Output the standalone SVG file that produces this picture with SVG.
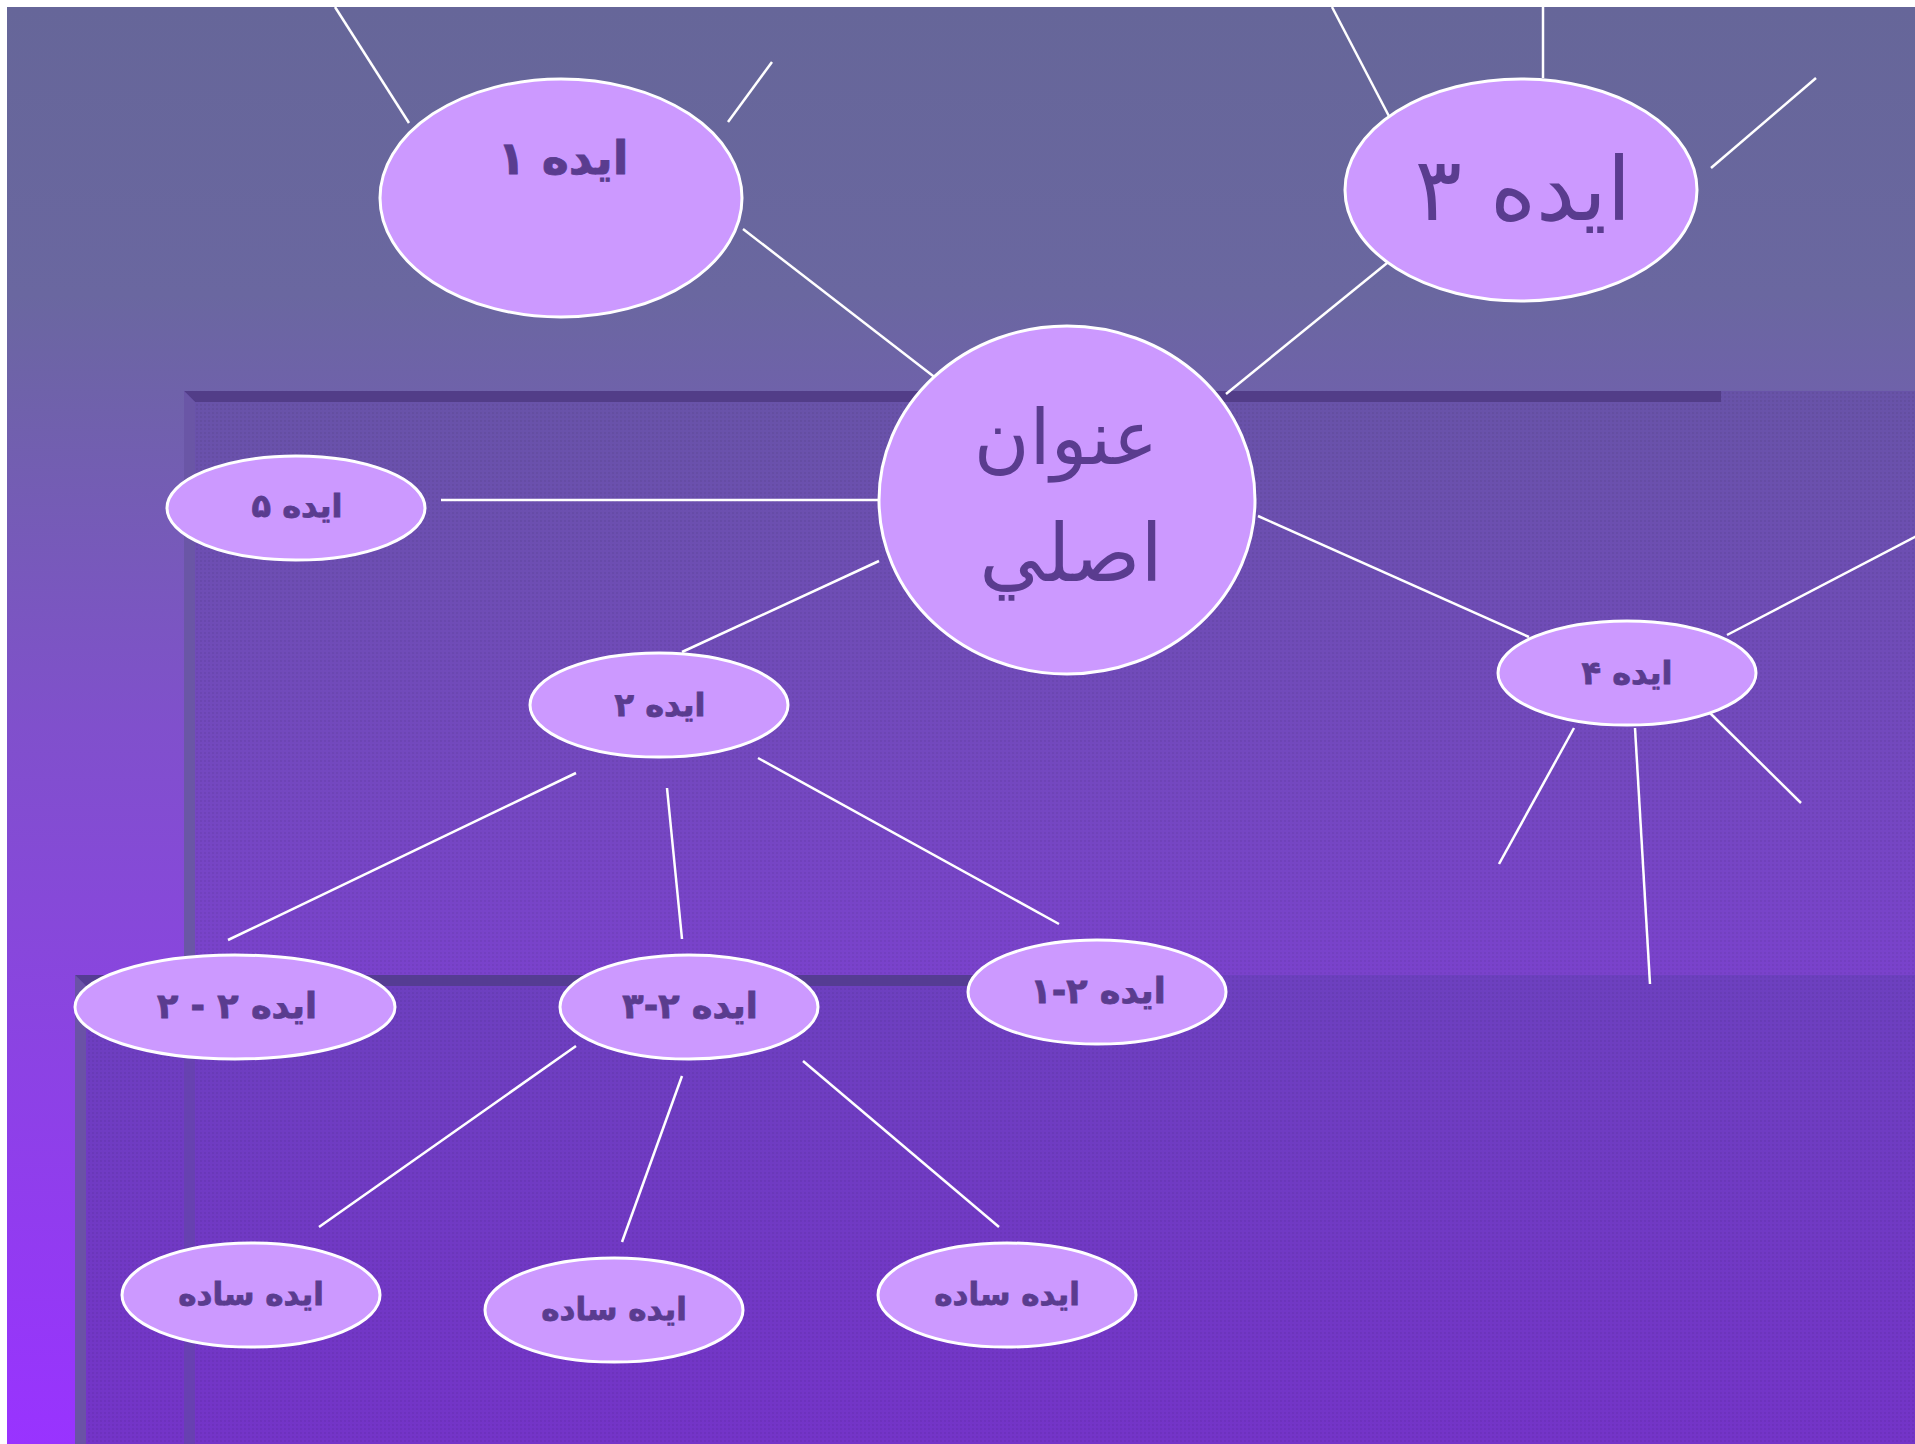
<svg xmlns="http://www.w3.org/2000/svg" width="1915" height="1444" viewBox="0 0 1915 1444">
<style>
.node ellipse{fill:#cc99ff;stroke:#ffffff;stroke-width:3}
.node text{font-family:"DejaVu Sans",sans-serif;fill:#5a3c8f;text-anchor:middle;direction:rtl}
.b text{font-weight:bold;stroke:#5a3c8f;stroke-width:0.8}
#connectors line{stroke:#ffffff;stroke-width:2.5}
</style>
<defs>
<linearGradient id="bg" x1="0" y1="7" x2="0" y2="1444" gradientUnits="userSpaceOnUse">
<stop offset="0" stop-color="#666699"/>
<stop offset="0.2" stop-color="#6a67a0"/>
<stop offset="0.5" stop-color="#8050cc"/>
<stop offset="1" stop-color="#9933ff"/>
</linearGradient>
<linearGradient id="p1" x1="0" y1="391" x2="0" y2="975" gradientUnits="userSpaceOnUse">
<stop offset="0" stop-color="#6853a8"/>
<stop offset="1" stop-color="#7a42cc"/>
</linearGradient>
<linearGradient id="p2" x1="0" y1="975" x2="0" y2="1444" gradientUnits="userSpaceOnUse">
<stop offset="0" stop-color="#6d40bf"/>
<stop offset="1" stop-color="#7434c8"/>
</linearGradient>
<pattern id="tex" width="4" height="4" patternUnits="userSpaceOnUse">
<rect x="0" y="0" width="2" height="2" fill="#000" fill-opacity="0.05"/>
</pattern>
</defs>
<rect x="0" y="0" width="1915" height="1444" fill="#ffffff"/>
<rect x="7" y="7" width="1908" height="1437" fill="url(#bg)"/>
<g id="panel1">
<rect x="184" y="391" width="1731" height="1053" fill="url(#p1)"/>
<rect x="184" y="391" width="1731" height="1053" fill="url(#tex)"/>
<polygon points="184,391 1721,391 1721,402 195,402" fill="#523d88"/>
<polygon points="184,391 195,402 195,1444 184,1444" fill="#6a56a6"/>
</g>
<g id="panel2">
<rect x="75" y="975" width="1840" height="469" fill="url(#p2)"/>
<rect x="75" y="975" width="1840" height="469" fill="url(#tex)"/>
<polygon points="75,975 1100,975 1100,986 86,986" fill="#553c93"/>
<polygon points="75,975 86,986 86,1444 75,1444" fill="#6a52a6"/>
<rect x="184" y="986" width="11" height="458" fill="#6544ad" fill-opacity="0.8"/>
</g>
<g id="connectors">
<line x1="335" y1="7" x2="409" y2="123"/>
<line x1="772" y1="62" x2="728" y2="122"/>
<line x1="743" y1="229" x2="937" y2="379"/>
<line x1="1332" y1="7" x2="1392" y2="122"/>
<line x1="1543" y1="7" x2="1543" y2="78"/>
<line x1="1816" y1="78" x2="1711" y2="168"/>
<line x1="1392" y1="259" x2="1226" y2="394"/>
<line x1="441" y1="500" x2="879" y2="500"/>
<line x1="879" y1="561" x2="682" y2="652"/>
<line x1="1258" y1="516" x2="1529" y2="637"/>
<line x1="1727" y1="635" x2="1930" y2="529"/>
<line x1="1574" y1="728" x2="1499" y2="864"/>
<line x1="1635" y1="728" x2="1650" y2="984"/>
<line x1="1710" y1="713" x2="1801" y2="803"/>
<line x1="576" y1="773" x2="228" y2="940"/>
<line x1="667" y1="788" x2="682" y2="939"/>
<line x1="758" y1="758" x2="1059" y2="924"/>
<line x1="576" y1="1046" x2="319" y2="1227"/>
<line x1="682" y1="1076" x2="622" y2="1242"/>
<line x1="803" y1="1061" x2="999" y2="1227"/>
</g>
<g id="idea1" class="node b"><ellipse cx="561" cy="198" rx="181" ry="119"/><text x="563" y="174" font-size="46">ايده ١</text></g>
<g id="idea3" class="node"><ellipse cx="1521" cy="190" rx="176" ry="111"/><text x="1523" y="220" font-size="88">ايده ٣</text></g>
<g id="main" class="node"><ellipse cx="1067" cy="500" rx="188" ry="174"/><text x="1066" y="464" font-size="76">عنوان</text><text x="1071" y="581" font-size="80">اصلي</text></g>
<g id="idea5" class="node b"><ellipse cx="296" cy="508" rx="129" ry="52"/><text x="297" y="517" font-size="32">ايده ۵</text></g>
<g id="idea2" class="node b"><ellipse cx="659" cy="705" rx="129" ry="52"/><text x="660" y="716" font-size="32">ايده ٢</text></g>
<g id="idea4" class="node b"><ellipse cx="1627" cy="673" rx="129" ry="52"/><text x="1627" y="684" font-size="32">ايده ۴</text></g>
<g id="idea2-2" class="node b"><ellipse cx="235" cy="1007" rx="160" ry="52"/><text x="237" y="1018" font-size="35">ايده ٢ - ٢</text></g>
<g id="idea2-3" class="node b"><ellipse cx="689" cy="1007" rx="129" ry="52"/><text x="690" y="1018" font-size="35">ايده ٢-٣</text></g>
<g id="idea2-1" class="node b"><ellipse cx="1097" cy="992" rx="129" ry="52"/><text x="1098" y="1003" font-size="35">ايده ٢-١</text></g>
<g id="simple1" class="node b"><ellipse cx="251" cy="1295" rx="129" ry="52"/><text x="251" y="1305" font-size="31">ايده ساده</text></g>
<g id="simple2" class="node b"><ellipse cx="614" cy="1310" rx="129" ry="52"/><text x="614" y="1320" font-size="31">ايده ساده</text></g>
<g id="simple3" class="node b"><ellipse cx="1007" cy="1295" rx="129" ry="52"/><text x="1007" y="1305" font-size="31">ايده ساده</text></g>
</svg>
